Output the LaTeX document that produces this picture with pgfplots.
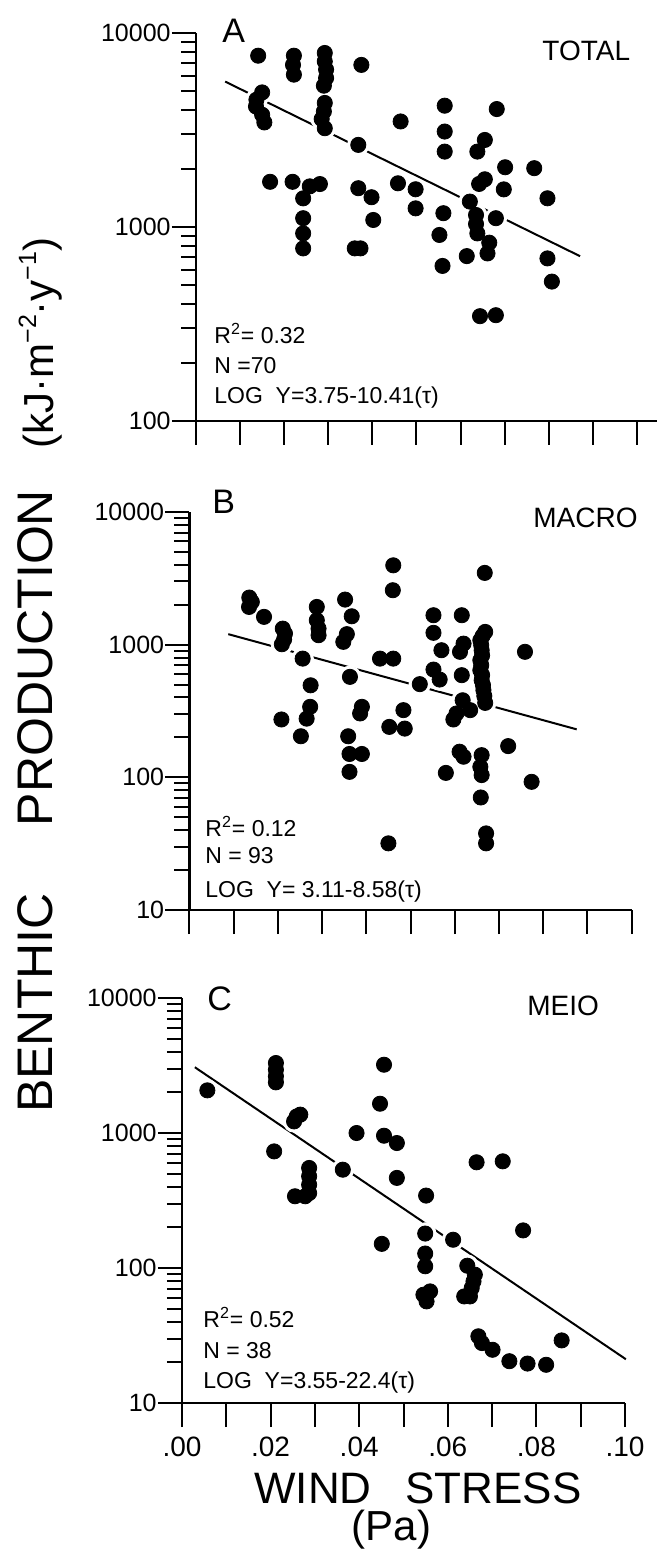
\documentclass[border=0pt]{standalone}
\usepackage{fontspec}
\setmainfont{Liberation Sans}
\usepackage{pgfplots}
\pgfplotsset{compat=1.18}
\usepackage{pgfplotstable}

\pgfplotstableread{
t p
0.0141 7640
0.0150 4940
0.0137 4530
0.0136 4180
0.0150 3790
0.0155 3460
0.0222 7640
0.0220 6850
0.0222 6100
0.0292 7890
0.0292 7140
0.0295 6480
0.0295 5860
0.0290 5350
0.0292 4360
0.0290 3940
0.0285 3600
0.0292 3230
0.0375 6850
0.0368 2650
0.0168 1710
0.0219 1710
0.0258 1620
0.0281 1665
0.0243 1405
0.0243 1110
0.0243 927
0.0243 776
0.0368 1585
0.0398 1424
0.0402 1087
0.0360 776
0.0373 776
0.0464 3500
0.0458 1680
0.0498 1565
0.0498 1248
0.0564 4220
0.0564 3105
0.0564 2447
0.0561 1178
0.0552 910
0.0559 630
0.0638 2447
0.0655 2810
0.0642 1667
0.0655 1762
0.0621 1352
0.0635 1153
0.0635 1036
0.0638 927
0.0665 830
0.0661 731
0.0614 708
0.0682 4055
0.0701 2032
0.0698 1563
0.0680 1110
0.0767 2010
0.0797 1406
0.0797 689
0.0807 523
0.0644 347
0.0680 351
}\dataA

\pgfplotstableread{
t p
0.01353 2265
0.0141 2100
0.01347 1925
0.01686 1620
0.0211 1321
0.0216 1213
0.0214 1093
0.0209 1007
0.0256 785
0.0274 494
0.0273 340
0.0265 277
0.0208 273
0.0252 204
0.0288 1925
0.0288 1528
0.0292 1321
0.0292 1178
0.0352 2187
0.0367 1637
0.0356 1200
0.0348 1050
0.0363 572
0.0390 340
0.0386 303
0.0359 204
0.0362 150
0.0390 150
0.0362 110
0.0461 3965
0.0460 2572
0.0431 785
0.0461 785
0.0452 240
0.0450 31.8
0.0484 321
0.0487 233
0.0521 504
0.0552 1667
0.0552 1228
0.0570 908
0.0552 649
0.0566 546
0.0616 1667
0.0620 1018
0.0612 883
0.0616 589
0.0618 381
0.0604 303
0.0597 273
0.0635 321
0.0669 1248
0.0663 1160
0.0658 1080
0.0660 990
0.0661 908
0.0662 830
0.0658 764
0.0660 700
0.0658 642
0.0662 590
0.0661 539
0.0664 495
0.0665 454
0.0667 410
0.0669 364
0.0668 3475
0.0611 156
0.0620 143
0.0580 108
0.0661 147
0.0658 120
0.0661 104
0.0659 70.5
0.0671 37.8
0.0671 31.8
0.0721 172
0.0759 883
0.0774 92.5
}\dataB

\pgfplotstableread{
t p
0.00572 2070
0.0212 3300
0.0212 2945
0.0212 2630
0.0212 2373
0.0208 731
0.0259 1327
0.0267 1368
0.0253 1219
0.0287 551
0.0287 478
0.0287 414
0.0287 359
0.0255 340
0.0278 340
0.0363 535
0.0394 1000
0.0456 3205
0.0447 1648
0.0456 955
0.0485 843
0.0485 465
0.0451 151
0.0551 344
0.0549 180
0.0549 128
0.0549 103
0.0545 63.4
0.0560 67.1
0.0552 56.6
0.0612 162
0.0665 607
0.0724 617
0.0770 190
0.0644 104
0.0661 89.3
0.0658 79.6
0.0654 71.1
0.0637 61.6
0.0650 61.6
0.0669 31.2
0.0677 27.8
0.0701 24.8
0.0739 20.4
0.0780 19.6
0.0822 19.2
0.0857 29.1
}\dataC

\newcommand{\statfont}{\fontsize{11.5}{11.5}\selectfont}
\newcommand{\letterfont}{\fontsize{17}{17}\selectfont}
\newcommand{\tagfont}{\fontsize{14}{14}\selectfont}
\newcommand{\supr}[1]{\raisebox{0.42em}{\fontsize{12.5}{12.5}\selectfont #1}}

\begin{document}
\begin{tikzpicture}
\useasboundingbox (0,0) rectangle (328.5pt,-779pt);

% Panel A
\begin{axis}[at={(98pt,-210.5pt)}, anchor=south west,
  scale only axis, width=230.5pt, height=194pt,
  ymode=log, xmin=0, xmax=0.10454, ymin=100, ymax=10000,
  axis x line*=bottom, axis y line*=left,
  axis line style={line width=1.1pt},
  tick align=outside, major tick length=12pt, minor tick length=7.5pt,
  major tick style={line width=1pt, black}, minor tick style={line width=1pt, black},
  xtick={0,0.01,0.02,0.03,0.04,0.05,0.06,0.07,0.08,0.09,0.10},
  xticklabels={,,,,,,,,,,},
  ytick={100,1000,10000}, yticklabels={100,1000,10000},
  minor ytick={200,300,400,500,600,700,800,900,2000,3000,4000,5000,6000,7000,8000,9000},
  tick label style={font=\fontsize{12.5}{12.5}\selectfont},
  yticklabel style={inner sep=0pt, xshift=-0.5pt},
  clip=false]
\addplot[black, line width=1pt, no marks] coordinates {(0.0066,5620) (0.0871,707)};
\addplot[only marks, mark=*, mark size=5.4pt, white, mark options={fill=white, draw=none}] table[x=t,y=p]{\dataA};
\addplot[only marks, mark=*, mark size=3.8pt, black, mark options={fill=black, draw=none}] table[x=t,y=p]{\dataA};
\end{axis}

% Panel B
\begin{axis}[at={(94.75pt,-455pt)}, anchor=south west,
  scale only axis, width=221pt, height=199pt,
  ymode=log, xmin=0, xmax=0.10, ymin=10, ymax=10000,
  axis x line*=bottom, axis y line*=left,
  axis line style={line width=1.1pt},
  tick align=outside, major tick length=12pt, minor tick length=7.5pt,
  major tick style={line width=1pt, black}, minor tick style={line width=1pt, black},
  xtick={0,0.01,0.02,0.03,0.04,0.05,0.06,0.07,0.08,0.09,0.10},
  xticklabels={,,,,,,,,,,},
  ytick={10,100,1000,10000}, yticklabels={10,100,1000,10000},
  minor ytick={20,30,40,50,60,70,80,90,200,300,400,500,600,700,800,900,2000,3000,4000,5000,6000,7000,8000,9000},
  tick label style={font=\fontsize{12.5}{12.5}\selectfont},
  yticklabel style={inner sep=0pt, xshift=-0.5pt},
  clip=false]
\addplot[black, line width=1pt, no marks] coordinates {(0.00878,1200) (0.0876,230)};
\addplot[only marks, mark=*, mark size=5.4pt, white, mark options={fill=white, draw=none}] table[x=t,y=p]{\dataB};
\addplot[only marks, mark=*, mark size=3.8pt, black, mark options={fill=black, draw=none}] table[x=t,y=p]{\dataB};
\end{axis}

% Panel C
\begin{axis}[at={(91pt,-701.5pt)}, anchor=south west,
  scale only axis, width=221.5pt, height=202.5pt,
  ymode=log, xmin=0, xmax=0.10, ymin=10, ymax=10000,
  axis x line*=bottom, axis y line*=left,
  axis line style={line width=1.1pt},
  tick align=outside, major tick length=12pt, minor tick length=7.5pt,
  major tick style={line width=1pt, black}, minor tick style={line width=1pt, black},
  xtick={0,0.01,0.02,0.03,0.04,0.05,0.06,0.07,0.08,0.09,0.10},
  xticklabels={.00,,.02,,.04,,.06,,.08,,.10},
  ytick={10,100,1000,10000}, yticklabels={10,100,1000,10000},
  minor ytick={20,30,40,50,60,70,80,90,200,300,400,500,600,700,800,900,2000,3000,4000,5000,6000,7000,8000,9000},
  tick label style={font=\fontsize{12.5}{12.5}\selectfont},
  yticklabel style={inner sep=0pt, xshift=-0.5pt},
  xticklabel style={inner sep=0pt, yshift=-5pt, font=\fontsize{14}{14}\selectfont},
  clip=false]
\addplot[black, line width=1pt, no marks] coordinates {(0.0029,3070) (0.1002,21.1)};
\addplot[only marks, mark=*, mark size=5.4pt, white, mark options={fill=white, draw=none}] table[x=t,y=p]{\dataC};
\addplot[only marks, mark=*, mark size=3.8pt, black, mark options={fill=black, draw=none}] table[x=t,y=p]{\dataC};
\end{axis}

% Panel texts
\node[anchor=base west, inner sep=0pt] at (111pt,-21pt) {\letterfont A};
\node[anchor=base west, inner sep=0pt] at (271pt,-30pt) {\tagfont TOTAL};
\node[anchor=base west, inner sep=0pt] at (107pt,-171.5pt) {\statfont R\textsuperscript{2}= 0.32};
\node[anchor=base west, inner sep=0pt] at (107pt,-186.5pt) {\statfont N =70};
\node[anchor=base west, inner sep=0pt] at (107pt,-201.5pt) {\statfont LOG~~Y=3.75-10.41(τ)};

\node[anchor=base west, inner sep=0pt] at (106pt,-256.5pt) {\letterfont B};
\node[anchor=base west, inner sep=0pt] at (266.5pt,-263.5pt) {\tagfont MACRO};
\node[anchor=base west, inner sep=0pt] at (102.5pt,-418pt) {\statfont R\textsuperscript{2}= 0.12};
\node[anchor=base west, inner sep=0pt] at (102.5pt,-431.5pt) {\statfont N = 93};
\node[anchor=base west, inner sep=0pt] at (102.5pt,-448.5pt) {\statfont LOG~~Y= 3.11-8.58(τ)};

\node[anchor=base west, inner sep=0pt] at (103.5pt,-505pt) {\letterfont C};
\node[anchor=base west, inner sep=0pt] at (263.5pt,-507.5pt) {\tagfont MEIO};
\node[anchor=base west, inner sep=0pt] at (101.5pt,-663.5pt) {\statfont R\textsuperscript{2}= 0.52};
\node[anchor=base west, inner sep=0pt] at (101.5pt,-679pt) {\statfont N = 38};
\node[anchor=base west, inner sep=0pt] at (101.5pt,-694pt) {\statfont LOG~~Y=3.55-22.4(τ)};

% Axis titles
\node[anchor=base, inner sep=0pt] at (209pt,-751.5pt) {\fontsize{22}{22}\selectfont WIND\hspace{17pt}STRESS};
\node[anchor=base, inner sep=0pt] at (195.75pt,-770pt) {\fontsize{21}{21}\selectfont (Pa)};
\node[anchor=base, inner sep=0pt, rotate=90] at (26.25pt,-329pt) {\fontsize{25}{25}\selectfont PRODUCTION};
\node[anchor=base, inner sep=0pt, rotate=90] at (26.25pt,-501.5pt) {\fontsize{25}{25}\selectfont BENTHIC};
\node[anchor=base, inner sep=0pt, rotate=90] at (26.9pt,-171.5pt) {\fontsize{21}{21}\selectfont (kJ·m\supr{−2}·y\supr{−1})};
\end{tikzpicture}
\end{document}
